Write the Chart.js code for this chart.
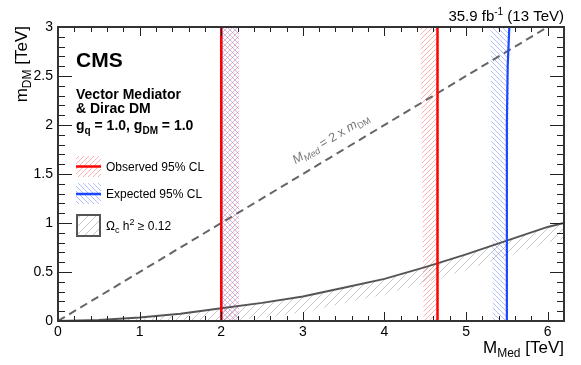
<!DOCTYPE html>
<html><head><meta charset="utf-8">
<script src="https://cdn.jsdelivr.net/npm/chart.js@4.4.1/dist/chart.umd.min.js"></script>
<style>html,body{margin:0;padding:0;background:#fff}canvas{display:block}</style>
</head><body>
<canvas id="c" width="581" height="365"></canvas>
<script>
// ---- data ----
const xTickValues = [0, 1, 2, 3, 4, 5, 6];
const xTickLabels = ['0', '1', '2', '3', '4', '5', '6'];
const yTickValues = [0, 0.5, 1, 1.5, 2, 2.5, 3];
const yTickLabels = ['0', '0.5', '1', '1.5', '2', '2.5', '3'];

// M_Med = 2 x m_DM diagonal
const diagX = [0, 6];
const diagY = [0, 3];

// relic density curve (Omega_c h^2 = 0.12) and lower edge of its hatched band
const relicX    = [0, 0.5, 1, 1.5, 2, 2.5, 3, 3.5, 4, 4.5, 5, 5.5, 6, 6.2];
const relicY    = [0, 0.01, 0.035, 0.075, 0.13, 0.185, 0.25, 0.34, 0.43, 0.55, 0.68, 0.82, 0.96, 1.0];
const relicLowY = [0, 0, 0, 0, 0, 0.03, 0.09, 0.18, 0.27, 0.39, 0.52, 0.66, 0.80, 0.84];

// observed 95% CL contours
const obsLowX = [2.0, 2.0];   const obsLowY = [0, 3];
const obsHighX = [4.65, 4.65]; const obsHighY = [0, 3];
// expected 95% CL contours
const expLowX = [2.0, 2.0];   const expLowY = [0, 3];
const expHighX = [5.50, 5.50, 5.51, 5.53]; const expHighY = [0, 2.0, 2.6, 3.0];

// hatched bands on the excluded side of each contour (polygons)
const obsBandLowX  = [2.0, 2.0, 2.22, 2.22];  const obsBandLowY  = [0, 3, 3, 0];
const obsBandHighX = [4.48, 4.44, 4.65, 4.65]; const obsBandHighY = [0, 3, 3, 0];
const expBandLowX  = [2.0, 2.0, 2.22, 2.22];  const expBandLowY  = [0, 3, 3, 0];
const expBandHighX = [5.33, 5.30, 5.53, 5.50]; const expBandHighY = [0, 3, 3, 0];

// ---- helpers ----
const pts = (xs, ys) => xs.map((x, i) => ({x: x, y: ys[i]}));
const FAM = '"Liberation Sans", Arial, Helvetica, sans-serif';
const F = (size, bold, italic) => (italic ? 'italic ' : '') + (bold ? 'bold ' : '') + size + 'px ' + FAM;

function hatch(color, s, dir, lw) {
  const c = document.createElement('canvas');
  c.width = s; c.height = s;
  const g = c.getContext('2d');
  g.strokeStyle = color; g.lineWidth = lw;
  g.beginPath();
  if (dir > 0) { // '/'
    for (const cc of [0, s, 2 * s]) { g.moveTo(cc - (s + 1), s + 1); g.lineTo(cc + 1, -1); }
  } else { // '\'
    for (const cc of [-s, 0, s]) { g.moveTo(cc - 1, -1); g.lineTo(cc + s + 1, s + 1); }
  }
  g.stroke();
  return document.createElement('canvas').getContext('2d').createPattern(c, 'repeat');
}
const redHatch = hatch('rgba(255,80,80,0.45)', 5, 1, 1);
const blueHatch = hatch('rgba(70,100,255,0.42)', 5, -1, 1);
const grayHatch = hatch('#c8c8c8', 8, 1, 1);

function drawRich(ctx, parts, x, y, align) {
  let w = 0;
  for (const p of parts) { ctx.font = p.f; w += ctx.measureText(p.t).width; }
  let cx = align === 'right' ? x - w : x;
  ctx.textAlign = 'left';
  ctx.textBaseline = 'alphabetic';
  for (const p of parts) {
    ctx.font = p.f;
    ctx.fillText(p.t, cx, y + (p.dy || 0));
    cx += ctx.measureText(p.t).width;
  }
}

const decor = {
  id: 'decor',
  afterDraw(chart) {
    const ctx = chart.ctx, a = chart.chartArea;
    const xs = chart.scales.x, ys = chart.scales.y;
    ctx.save();
    // ticks (ROOT style, inside, on all four sides)
    ctx.strokeStyle = '#222'; ctx.lineWidth = 1;
    ctx.beginPath();
    for (let i = 0; i <= 31; i++) {
      const v = i * 0.2; if (v > 6.2 + 1e-9) break;
      const px = Math.round(xs.getPixelForValue(v)) + 0.5;
      const major = Math.abs(v - Math.round(v)) < 1e-6;
      const L = major ? 9 : 5;
      ctx.moveTo(px, a.bottom); ctx.lineTo(px, a.bottom - L);
      ctx.moveTo(px, a.top); ctx.lineTo(px, a.top + L);
    }
    for (let i = 0; i <= 30; i++) {
      const v = i * 0.1;
      const py = Math.round(ys.getPixelForValue(v)) + 0.5;
      const major = i % 5 === 0;
      const L = major ? 14 : 7;
      ctx.moveTo(a.left, py); ctx.lineTo(a.left + L, py);
      ctx.moveTo(a.right, py); ctx.lineTo(a.right - L, py);
    }
    ctx.stroke();
    // frame
    ctx.strokeStyle = '#333'; ctx.lineWidth = 2;
    ctx.strokeRect(a.left, a.top, a.right - a.left, a.bottom - a.top);

    ctx.fillStyle = '#000';
    // CMS label block
    drawRich(ctx, [{t: 'CMS', f: F(21, true)}], 76, 67);
    drawRich(ctx, [{t: 'Vector Mediator', f: F(14, true)}], 76, 99);
    drawRich(ctx, [{t: '& Dirac DM', f: F(14, true)}], 76, 113);
    drawRich(ctx, [
      {t: 'g', f: F(14, true)}, {t: 'q', f: F(10, true), dy: 4},
      {t: ' = 1.0, g', f: F(14, true)}, {t: 'DM', f: F(10, true), dy: 4},
      {t: ' = 1.0', f: F(14, true)}], 76, 130);
    // luminosity
    drawRich(ctx, [{t: '35.9 fb', f: F(15)}, {t: '-1', f: F(10), dy: -6}, {t: ' (13 TeV)', f: F(15)}], a.right, 21, 'right');
    // x title
    drawRich(ctx, [{t: 'M', f: F(17)}, {t: 'Med', f: F(12), dy: 4}, {t: ' [TeV]', f: F(17)}], a.right, 353, 'right');
    // y title
    ctx.save();
    ctx.translate(27, a.top - 1);
    ctx.rotate(-Math.PI / 2);
    drawRich(ctx, [{t: 'm', f: F(17)}, {t: 'DM', f: F(12), dy: 4}, {t: ' [TeV]', f: F(17)}], 0, 0, 'right');
    ctx.restore();
    // diagonal label
    const ang = Math.atan2(ys.getPixelForValue(diagY[1]) - ys.getPixelForValue(diagY[0]),
                           xs.getPixelForValue(diagX[1]) - xs.getPixelForValue(diagX[0]));
    ctx.save();
    ctx.fillStyle = '#777';
    ctx.translate(xs.getPixelForValue(2.91), ys.getPixelForValue(1.6));
    ctx.rotate(ang);
    drawRich(ctx, [{t: 'M', f: F(12.5, false, true)}, {t: 'Med', f: F(9, false, true), dy: 3},
                   {t: ' = 2 x ', f: F(12.5)}, {t: 'm', f: F(12.5, false, true)}, {t: 'DM', f: F(9), dy: 3}], 0, 0);
    ctx.restore();

    // legend
    ctx.fillStyle = redHatch; ctx.fillRect(76, 156, 25, 21);
    ctx.strokeStyle = '#ff0000'; ctx.lineWidth = 2.5;
    ctx.beginPath(); ctx.moveTo(76, 166.5); ctx.lineTo(101, 166.5); ctx.stroke();
    ctx.fillStyle = blueHatch; ctx.fillRect(76, 183, 25, 21);
    ctx.strokeStyle = '#1a47ff'; ctx.lineWidth = 2.5;
    ctx.beginPath(); ctx.moveTo(76, 194); ctx.lineTo(101, 194); ctx.stroke();
    ctx.fillStyle = grayHatch; ctx.fillRect(77, 215, 23, 21);
    ctx.strokeStyle = '#555'; ctx.lineWidth = 2; ctx.strokeRect(77, 215, 23, 21);
    ctx.fillStyle = '#000';
    drawRich(ctx, [{t: 'Observed 95% CL', f: F(12)}], 106, 170.5);
    drawRich(ctx, [{t: 'Expected 95% CL', f: F(12)}], 106, 198);
    drawRich(ctx, [{t: 'Ω', f: F(12)}, {t: 'c', f: F(9), dy: 3}, {t: ' h', f: F(12)},
                   {t: '2', f: F(9), dy: -5}, {t: ' ≥ 0.12', f: F(12)}], 106, 230);
    ctx.restore();
  }
};

const lineBase = {pointRadius: 0, pointHoverRadius: 0, tension: 0, fill: false};
new Chart(document.getElementById('c'), {
  type: 'line',
  data: {
    datasets: [
      Object.assign({}, lineBase, {label: 'Observed low', data: pts(obsLowX, obsLowY), borderColor: '#ff0000', borderWidth: 2.5, order: 1}),
      Object.assign({}, lineBase, {label: 'Observed high', data: pts(obsHighX, obsHighY), borderColor: '#ff0000', borderWidth: 2.5, order: 1}),
      Object.assign({}, lineBase, {label: 'Expected low', data: pts(expLowX, expLowY), borderColor: '#1a47ff', borderWidth: 2.2, order: 2}),
      Object.assign({}, lineBase, {label: 'Expected high', data: pts(expHighX, expHighY), borderColor: '#1a47ff', borderWidth: 2.2, order: 2}),
      Object.assign({}, lineBase, {label: 'Relic', data: pts(relicX, relicY), borderColor: '#555', borderWidth: 2, order: 3}),
      Object.assign({}, lineBase, {label: 'Diagonal', data: pts(diagX, diagY), borderColor: '#666', borderWidth: 2, borderDash: [8, 5], order: 4}),
      Object.assign({}, lineBase, {label: 'obs band low', data: pts(obsBandLowX, obsBandLowY), borderWidth: 0, borderColor: 'rgba(0,0,0,0)', backgroundColor: redHatch, fill: 'shape', order: 5}),
      Object.assign({}, lineBase, {label: 'obs band high', data: pts(obsBandHighX, obsBandHighY), borderWidth: 0, borderColor: 'rgba(0,0,0,0)', backgroundColor: redHatch, fill: 'shape', order: 5}),
      Object.assign({}, lineBase, {label: 'exp band low', data: pts(expBandLowX, expBandLowY), borderWidth: 0, borderColor: 'rgba(0,0,0,0)', backgroundColor: blueHatch, fill: 'shape', order: 6}),
      Object.assign({}, lineBase, {label: 'exp band high', data: pts(expBandHighX, expBandHighY), borderWidth: 0, borderColor: 'rgba(0,0,0,0)', backgroundColor: blueHatch, fill: 'shape', order: 6}),
      Object.assign({}, lineBase, {label: 'relic band', data: pts(relicX, relicY).concat(pts(relicX, relicLowY).reverse()), borderWidth: 0, borderColor: 'rgba(0,0,0,0)', backgroundColor: grayHatch, fill: 'shape', order: 7})
    ]
  },
  options: {
    responsive: false,
    animation: false,
    devicePixelRatio: 1,
    layout: {padding: {top: 27, right: 17, left: 0, bottom: 0}},
    plugins: {legend: {display: false}, tooltip: {enabled: false}},
    events: [],
    scales: {
      x: {
        type: 'linear', min: 0, max: 6.2,
        grid: {display: false, drawTicks: false},
        border: {display: false},
        afterBuildTicks: s => { s.ticks = xTickValues.map(v => ({value: v})); },
        afterFit: s => { s.height = 44; },
        ticks: {
          autoSkip: false, maxRotation: 0, padding: 3, color: '#000',
          font: {family: FAM, size: 14},
          callback: v => xTickLabels[xTickValues.indexOf(v)]
        }
      },
      y: {
        type: 'linear', min: 0, max: 3,
        grid: {display: false, drawTicks: false},
        border: {display: false},
        afterBuildTicks: s => { s.ticks = yTickValues.map(v => ({value: v})); },
        afterFit: s => { s.width = 58; },
        ticks: {
          autoSkip: false, padding: 5, color: '#000',
          font: {family: FAM, size: 14},
          callback: v => yTickLabels[yTickValues.indexOf(v)]
        }
      }
    }
  },
  plugins: [decor]
});
</script>
</body></html>
